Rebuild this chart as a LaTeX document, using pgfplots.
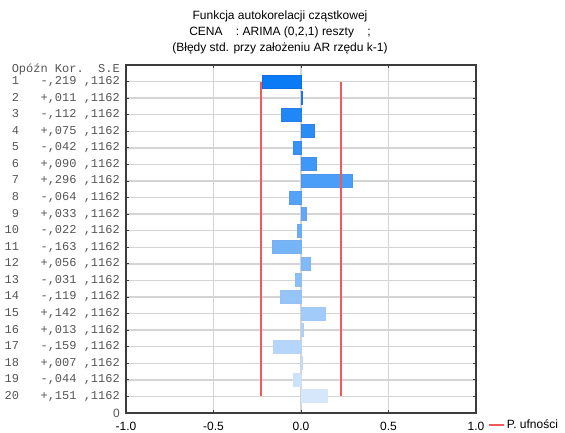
\documentclass[border=0pt]{standalone}
\usepackage{fontspec}
\setmainfont{Liberation Sans}
\setsansfont{Liberation Sans}
\setmonofont{Liberation Mono}
\usepackage{pgfplots}
\pgfplotsset{compat=1.18}
\definecolor{barA}{RGB}{10,123,245}
\definecolor{barB}{RGB}{214,231,251}
\definecolor{edge}{RGB}{30,95,200}
\definecolor{ciRed}{RGB}{240,90,90}
\definecolor{axGray}{RGB}{60,60,60}
\definecolor{gridc}{RGB}{212,212,212}
\definecolor{lbl}{RGB}{85,85,85}
\newcommand{\fs}{\fontsize{12pt}{14pt}\selectfont}
\newcommand{\s}{\hphantom{0}}
\begin{document}
\begin{tikzpicture}
\useasboundingbox (0,0) rectangle (565pt,432pt);
\node[font=\fs, align=center] at (280pt,416pt) {Funkcja autokorelacji cząstkowej};
\node[font=\fs, align=center] at (280pt,400pt) {CENA\ \ \ \ : ARIMA (0,2,1) reszty\ \ \ \ ;};
\node[font=\fs, align=center] at (280pt,384pt) {(Błędy std. przy założeniu AR rzędu k-1)};
\node[font=\fs\ttfamily, text=lbl, anchor=east, inner sep=0pt] at (120pt,363pt) {\s Opóźn\s Kor.\s\s S.E};
\begin{axis}[
  at={(126pt,19pt)}, anchor=south west,
  scale only axis, width=350pt, height=348pt,
  xmin=-1, xmax=1, ymin=0, ymax=21,
  xtick={-1,-0.5,0,0.5,1},
  xticklabel style={font=\fs, text=black, yshift=-6pt},
  /pgf/number format/assume math mode=true,
  /pgf/number format/fixed, /pgf/number format/fixed zerofill, /pgf/number format/precision=1,
  ytick={0,1,...,20},
  yticklabels={{\rmfamily 0},
   {20\s\s\s +,151\s ,1162},{19\s\s\s -,044\s ,1162},{18\s\s\s +,007\s ,1162},{17\s\s\s -,159\s ,1162},
   {16\s\s\s +,013\s ,1162},{15\s\s\s +,142\s ,1162},{14\s\s\s -,119\s ,1162},{13\s\s\s -,031\s ,1162},
   {12\s\s\s +,056\s ,1162},{11\s\s\s -,163\s ,1162},{10\s\s\s -,022\s ,1162},{\s 9\s\s\s +,033\s ,1162},
   {\s 8\s\s\s -,064\s ,1162},{\s 7\s\s\s +,296\s ,1162},{\s 6\s\s\s +,090\s ,1162},{\s 5\s\s\s -,042\s ,1162},
   {\s 4\s\s\s +,075\s ,1162},{\s 3\s\s\s -,112\s ,1162},{\s 2\s\s\s +,011\s ,1162},{\s 1\s\s\s -,219\s ,1162}},
  yticklabel style={font=\fs\ttfamily, text=lbl, inner sep=0pt, xshift=-6pt},
  tick align=inside, major tick length=3pt,
  major tick style={draw=axGray, line width=1pt},
  axis line style={axGray, line width=1.2pt},
  grid=major,
  grid style={draw=gridc, line width=1.5pt},
  legend style={draw=none, fill=none, at={(1.035,-0.035)}, anchor=west, font=\fs, inner sep=0pt},
  legend image code/.code={\draw[#1, line width=1.4pt] (0pt,0pt) -- (15pt,0pt);},
  legend cell align=left,
]
\addplot[xbar, bar shift=0pt, bar width=0.78, fill=barA!100!barB, draw=edge!45!barA, line width=1pt, forget plot] coordinates {(-0.219,20)};
\addplot[xbar, bar shift=0pt, bar width=0.78, fill=barA!95!barB, draw=edge!45!barA!95!barB, line width=1pt, forget plot] coordinates {(0.011,19)};
\addplot[xbar, bar shift=0pt, bar width=0.78, fill=barA!89!barB, draw=edge!45!barA!89!barB, line width=1pt, forget plot] coordinates {(-0.112,18)};
\addplot[xbar, bar shift=0pt, bar width=0.78, fill=barA!84!barB, draw=edge!45!barA!84!barB, line width=1pt, forget plot] coordinates {(0.075,17)};
\addplot[xbar, bar shift=0pt, bar width=0.78, fill=barA!79!barB, draw=edge!45!barA!79!barB, line width=1pt, forget plot] coordinates {(-0.042,16)};
\addplot[xbar, bar shift=0pt, bar width=0.78, fill=barA!74!barB, draw=edge!45!barA!74!barB, line width=1pt, forget plot] coordinates {(0.090,15)};
\addplot[xbar, bar shift=0pt, bar width=0.78, fill=barA!68!barB, draw=edge!45!barA!68!barB, line width=1pt, forget plot] coordinates {(0.296,14)};
\addplot[xbar, bar shift=0pt, bar width=0.78, fill=barA!63!barB, draw=edge!45!barA!63!barB, line width=1pt, forget plot] coordinates {(-0.064,13)};
\addplot[xbar, bar shift=0pt, bar width=0.78, fill=barA!58!barB, draw=edge!45!barA!58!barB, line width=1pt, forget plot] coordinates {(0.033,12)};
\addplot[xbar, bar shift=0pt, bar width=0.78, fill=barA!53!barB, draw=edge!45!barA!53!barB, line width=1pt, forget plot] coordinates {(-0.022,11)};
\addplot[xbar, bar shift=0pt, bar width=0.78, fill=barA!47!barB, draw=edge!45!barA!47!barB, line width=1pt, forget plot] coordinates {(-0.163,10)};
\addplot[xbar, bar shift=0pt, bar width=0.78, fill=barA!42!barB, draw=edge!45!barA!42!barB, line width=1pt, forget plot] coordinates {(0.056,9)};
\addplot[xbar, bar shift=0pt, bar width=0.78, fill=barA!37!barB, draw=edge!45!barA!37!barB, line width=1pt, forget plot] coordinates {(-0.031,8)};
\addplot[xbar, bar shift=0pt, bar width=0.78, fill=barA!32!barB, draw=edge!45!barA!32!barB, line width=1pt, forget plot] coordinates {(-0.119,7)};
\addplot[xbar, bar shift=0pt, bar width=0.78, fill=barA!26!barB, draw=edge!45!barA!26!barB, line width=1pt, forget plot] coordinates {(0.142,6)};
\addplot[xbar, bar shift=0pt, bar width=0.78, fill=barA!21!barB, draw=edge!45!barA!21!barB, line width=1pt, forget plot] coordinates {(0.013,5)};
\addplot[xbar, bar shift=0pt, bar width=0.78, fill=barA!16!barB, draw=edge!45!barA!16!barB, line width=1pt, forget plot] coordinates {(-0.159,4)};
\addplot[xbar, bar shift=0pt, bar width=0.78, fill=barA!11!barB, draw=edge!45!barA!11!barB, line width=1pt, forget plot] coordinates {(0.007,3)};
\addplot[xbar, bar shift=0pt, bar width=0.78, fill=barA!5!barB, draw=edge!45!barA!5!barB, line width=1pt, forget plot] coordinates {(-0.044,2)};
\addplot[xbar, bar shift=0pt, bar width=0.78, fill=barA!0!barB, draw=edge!45!barA!0!barB, line width=1pt, forget plot] coordinates {(0.151,1)};
\addplot[ciRed, line width=1.4pt, no marks] coordinates {(-0.2278,1) (-0.2278,20)};
\addlegendentry{P. ufności}
\addplot[ciRed, line width=1.4pt, no marks, forget plot] coordinates {(0.2278,1) (0.2278,20)};
\end{axis}
\end{tikzpicture}
\end{document}
